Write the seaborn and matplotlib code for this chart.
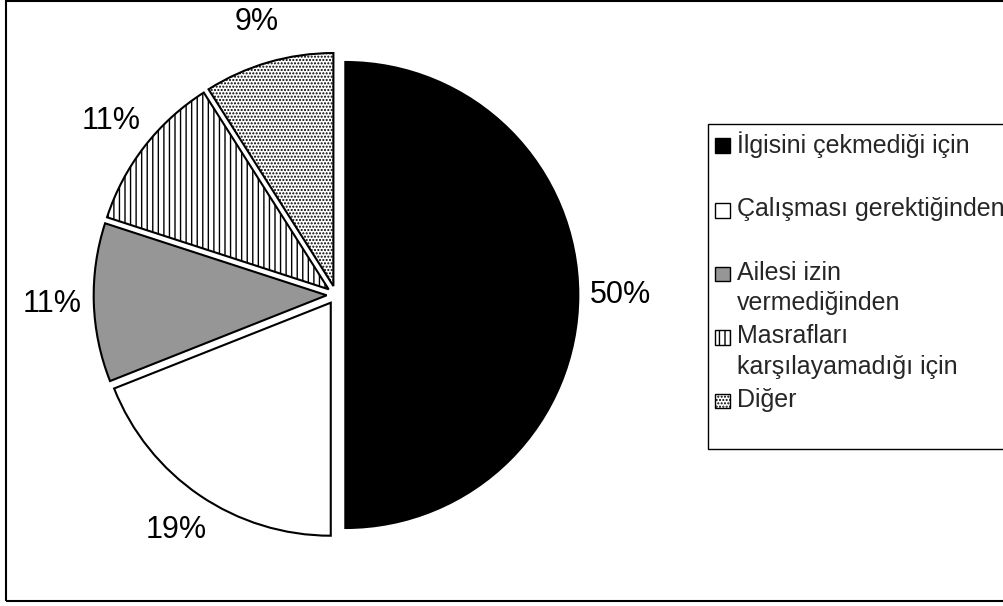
import matplotlib
matplotlib.use("Agg")
import matplotlib.pyplot as plt
import seaborn as sns
from matplotlib.legend_handler import HandlerPatch
from matplotlib.patches import Rectangle

# ---- data ----
categories = [
    "İlgisini çekmediği için",
    "Çalışması gerektiğinden",
    "Ailesi izin\nvermediğinden",
    "Masrafları\nkarşılayamadığı için",
    "Diğer",
]
values = [50, 19, 11, 11, 9]

# ---- styles ----
slice_colors = ["#000000", "#ffffff", "#969696", "#ffffff", "#ffffff"]
slice_hatches = ["", "", "", "|||", "....."]

sns.set_style("white")
plt.rcParams["font.family"] = ["Liberation Sans", "DejaVu Sans"]
plt.rcParams["hatch.linewidth"] = 1.0

W, H, DPI = 1004, 606, 100
fig = plt.figure(figsize=(W / DPI, H / DPI), dpi=DPI)
ax = fig.add_axes([0, 0, 1, 1])

wedges, texts, autotexts = ax.pie(
    values,
    startangle=90,
    counterclock=False,
    explode=[0.04] * len(values),
    colors=slice_colors,
    hatch=slice_hatches,
    wedgeprops=dict(edgecolor="black", linewidth=1.5),
    autopct="%.0f%%",
    pctdistance=1.18,
    textprops=dict(fontsize=22, color="black"),
)

# map pie centre to pixel (336, 295) with radius 233 px
cx, cy, R = 336, 295, 233
ax.set_xlim(-cx / R, (W - cx) / R)
ax.set_ylim(-(H - cy) / R, cy / R)
ax.set_aspect("auto")
ax.axis("off")

# legend: every entry occupies two lines; marker on the first line
leg_labels = [c if "\n" in c else c + "\n" for c in categories]
FS = 18
SHIFT = 11.0  # points, moves marker up to first text line


def square_first_line(legend, orig_handle, xdescent, ydescent, width, height, fontsize):
    side = min(width, height)
    return Rectangle((-xdescent, -ydescent + SHIFT), side, side)


top = 1 - 124 / H
leg = ax.legend(
    wedges,
    leg_labels,
    loc="upper left",
    bbox_to_anchor=(708 / W, top - 0.6, (1060 - 708) / W, 0.6),
    bbox_transform=fig.transFigure,
    mode="expand",
    borderaxespad=0,
    borderpad=0.28,
    fontsize=FS,
    handlelength=0.58,
    handleheight=0.58,
    handletextpad=0.3,
    labelspacing=0.37,
    frameon=True,
    fancybox=False,
    edgecolor="black",
    framealpha=1,
    handler_map={w: HandlerPatch(patch_func=square_first_line) for w in wedges},
)
leg.get_frame().set_linewidth(1.0)
for t in leg.get_texts():
    t.set_linespacing(1.33)
for h in leg.legend_handles:
    h.set_linewidth(1.0)

# outer figure border
fig.patches.append(
    Rectangle((6 / W, 5 / H), 1.2, (601 - 0.5) / H, transform=fig.transFigure,
              fill=False, edgecolor="black", linewidth=1.5)
)

fig.savefig("out.png", dpi=DPI, facecolor="white")
